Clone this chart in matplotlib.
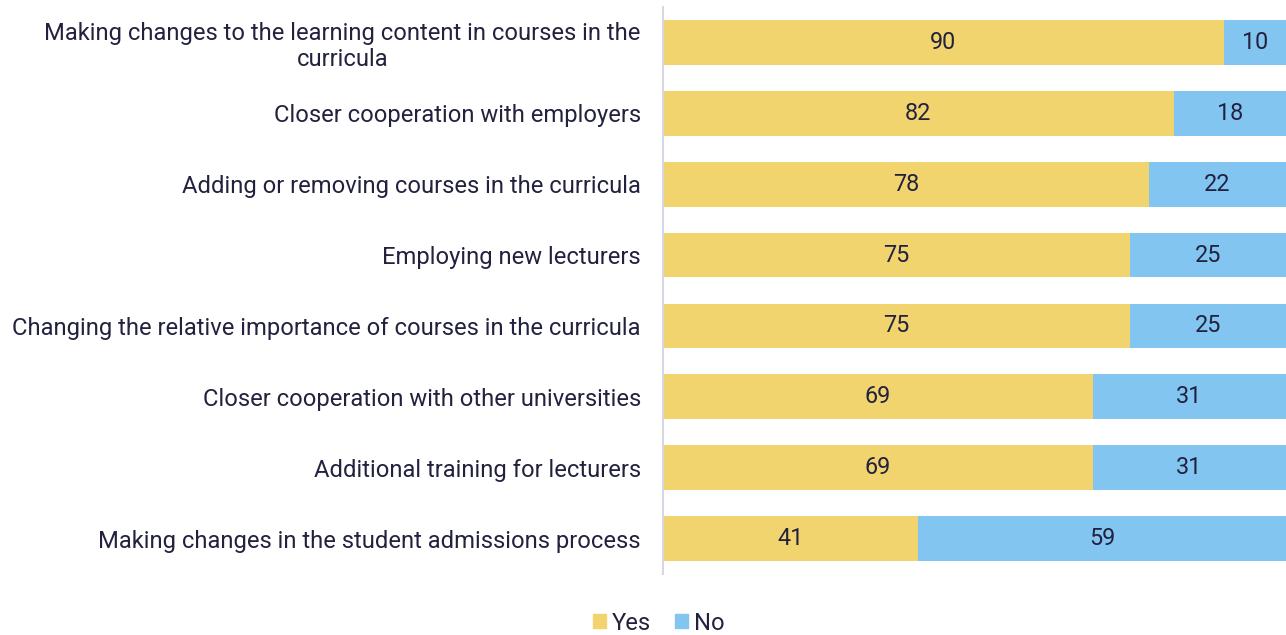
import matplotlib
matplotlib.use("Agg")
import matplotlib.pyplot as plt
from matplotlib.patches import Patch

categories = [
    "Making changes to the learning content in courses in the\ncurricula",
    "Closer cooperation with employers",
    "Adding or removing courses in the curricula",
    "Employing new lecturers",
    "Changing the relative importance of courses in the curricula",
    "Closer cooperation with other universities",
    "Additional training for lecturers",
    "Making changes in the student admissions process",
]
yes_values = [90, 82, 78, 75, 75, 69, 69, 41]
no_values = [10, 18, 22, 25, 25, 31, 31, 59]

YES_COLOR = "#F2D46E"
NO_COLOR = "#82C5F1"
TEXT_COLOR = "#22223F"
FS = 17.1

plt.rcParams["font.family"] = ["Roboto", "DejaVu Sans"]

fig = plt.figure(figsize=(12.86, 6.35), dpi=100)
ax = fig.add_axes([663 / 1286, 61 / 635, 1 - 663 / 1286, 567 / 635])

y = list(range(len(categories)))
bar_h = 0.63
ax.barh(y, yes_values, height=bar_h, color=YES_COLOR)
ax.barh(y, no_values, left=yes_values, height=bar_h, color=NO_COLOR)

for yi, yv, nv in zip(y, yes_values, no_values):
    ax.text(yv / 2, yi, f"{yv}", ha="center", va="center", fontsize=16.8, color=TEXT_COLOR)
    ax.text(yv + nv / 2, yi, f"{nv}", ha="center", va="center", fontsize=16.8, color=TEXT_COLOR)

ax.set_xlim(0, 100)
ax.set_ylim(len(categories) - 0.5, -0.5)
ax.set_yticks(y)
ax.set_yticklabels(categories, fontsize=FS, color=TEXT_COLOR, linespacing=1.15)
for lab in ax.get_yticklabels():
    lab.set_multialignment("center")
ax.tick_params(axis="y", length=0, pad=16)
ax.set_xticks([])
for s in ["top", "right", "bottom"]:
    ax.spines[s].set_visible(False)
ax.spines["left"].set_color("#D9D6E6")
ax.spines["left"].set_linewidth(1.5)

handles = [Patch(color=YES_COLOR, label="Yes"), Patch(color=NO_COLOR, label="No")]
fig.legend(handles=handles, loc="center", bbox_to_anchor=(659 / 1286, 1 - 623 / 635),
           ncol=2, frameon=False, fontsize=FS, handlelength=0.55, handleheight=0.55,
           handletextpad=0.25, columnspacing=1.0, labelcolor=TEXT_COLOR)

fig.savefig("out.png", dpi=100)
